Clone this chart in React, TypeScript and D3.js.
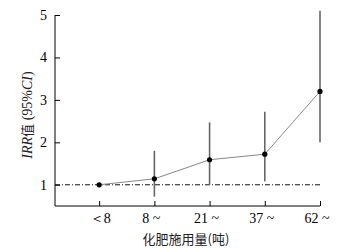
import React, { useEffect, useRef } from 'react';
import * as d3 from 'd3';

const categories = ['＜8', '8 ~', '21 ~', '37 ~', '62 ~'];
const irr = [1.0, 1.14, 1.59, 1.72, 3.2];
const lower = [1.0, 0.72, 1.0, 1.08, 2.0];
const upper = [1.0, 1.8, 2.47, 2.72, 5.1];
const yTicks = [1, 2, 3, 4, 5];

const App = () => {
  const ref = useRef<SVGSVGElement>(null);

  useEffect(() => {
    const svg = d3.select(ref.current);
    svg.selectAll('*').remove();

    const x0 = 55, x1 = 320, yTop = 15, yBottom = 206;
    const xScale = d3.scaleLinear().domain([-0.8, 4]).range([x0, x1]);
    const yScale = d3.scaleLinear().domain([0.5, 5]).range([yBottom, yTop]);
    const serif = 'Liberation Serif, DejaVu Serif, serif';
    const cjk = 'Noto Sans CJK SC';

    // axes
    svg.append('g')
      .attr('transform', `translate(${x0},0)`)
      .call(d3.axisRight(yScale).tickValues(yTicks).tickSize(5).tickFormat(() => ''))
      .call(g => g.select('.domain').attr('d', `M0,${yTop}V${yBottom}`))
      .attr('color', '#000');

    svg.append('g')
      .attr('transform', `translate(0,${yBottom})`)
      .call(d3.axisTop(xScale).tickValues(d3.range(categories.length)).tickSize(5).tickFormat(() => ''))
      .call(g => g.select('.domain').attr('d', `M${x0},0H${x1}`))
      .attr('color', '#000');

    svg.selectAll('.ylab')
      .data(yTicks)
      .enter().append('text')
      .attr('x', 47)
      .attr('y', d => yScale(d))
      .attr('dy', '0.35em')
      .attr('text-anchor', 'end')
      .attr('font-family', serif)
      .attr('font-size', 14)
      .text(d => d);

    svg.selectAll('.xlab')
      .data(categories)
      .enter().append('text')
      .attr('x', (d, i) => xScale(i) + (i === 0 ? 1 : -3))
      .attr('y', 223)
      .attr('text-anchor', 'middle')
      .attr('font-family', serif)
      .attr('font-size', 14)
      .text(d => d);

    // titles
    svg.append('text')
      .attr('x', 186)
      .attr('y', 244)
      .attr('text-anchor', 'middle')
      .attr('font-family', cjk)
      .attr('font-size', 13)
      .attr('fill', '#222')
      .text('化肥施用量(吨)');

    const yt = svg.append('text')
      .attr('transform', `translate(32,115) rotate(-90)`)
      .attr('text-anchor', 'middle')
      .attr('font-family', serif)
      .attr('font-size', 14)
      .attr('fill', '#222');
    yt.append('tspan').attr('font-style', 'italic').text('IRR');
    yt.append('tspan').attr('font-family', cjk).attr('font-size', 13).text('值');
    yt.append('tspan').text(' (95%');
    yt.append('tspan').attr('font-style', 'italic').text('CI');
    yt.append('tspan').text(')');

    // reference line
    svg.append('line')
      .attr('x1', x0).attr('x2', x1)
      .attr('y1', yScale(1)).attr('y2', yScale(1))
      .attr('stroke', '#111')
      .attr('stroke-width', 1)
      .attr('stroke-dasharray', '5,2,1,2');

    // error bars
    svg.selectAll('.err')
      .data(irr)
      .enter().append('line')
      .attr('x1', (d, i) => xScale(i)).attr('x2', (d, i) => xScale(i))
      .attr('y1', (d, i) => yScale(lower[i]))
      .attr('y2', (d, i) => yScale(upper[i]))
      .attr('stroke', '#666')
      .attr('stroke-width', 1.6);

    // line
    const line = d3.line<number>().x((d, i) => xScale(i)).y(d => yScale(d));
    svg.append('path')
      .attr('d', line(irr))
      .attr('fill', 'none')
      .attr('stroke', '#888')
      .attr('stroke-width', 1);

    svg.selectAll('.pt')
      .data(irr)
      .enter().append('circle')
      .attr('cx', (d, i) => xScale(i))
      .attr('cy', d => yScale(d))
      .attr('r', 2.6)
      .attr('fill', '#000');
  }, []);

  return (
    <svg ref={ref} width={355} height={250}
      style={{ position: 'absolute', left: 0, top: 0, background: '#fff' }} />
  );
};

export default App;
